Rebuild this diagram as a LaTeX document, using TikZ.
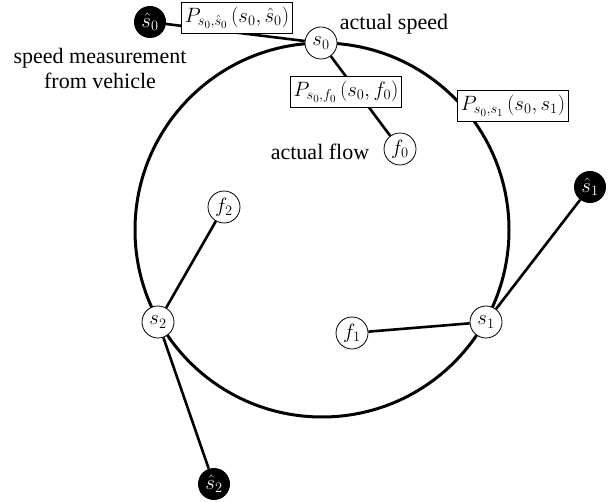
\documentclass[tikz,border=0pt]{standalone}
\usepackage{fontspec}
\setmainfont{Liberation Serif}

\begin{document}
\begin{tikzpicture}[x=1pt, y=-1pt,
    every node/.style={font=\fontsize{22}{25}\selectfont\rmfamily},
    state/.style={draw, circle, fill=white, line width=0.8pt, inner sep=0pt, minimum size=32pt},
    meas/.style={circle, fill=black, text=white, inner sep=0pt, minimum size=32pt},
    pbox/.style={draw, fill=white, line width=0.8pt, inner xsep=3pt, inner ysep=5pt},
    link/.style={line width=2.6pt}]
    \useasboundingbox (0,0) rectangle (608,502);

    \draw[line width=3pt] (322,230) circle [radius=187pt];

    \node[state] (s0) at (321,43)  {$s_0$};
    \node[state] (s1) at (486,322) {$s_1$};
    \node[state] (s2) at (158,322) {$s_2$};
    \node[state] (f0) at (400,149) {$f_0$};
    \node[state] (f1) at (352,333) {$f_1$};
    \node[state] (f2) at (224,207) {$f_2$};

    \node[meas] (m0) at (150,22)  {$\hat{s}_0$};
    \node[meas] (m1) at (590,187) {$\hat{s}_1$};
    \node[meas] (m2) at (214,484) {$\hat{s}_2$};

    \draw[link] (m0) -- (s0);
    \draw[link] (s0) -- (f0);
    \draw[link] (m1) -- (s1);
    \draw[link] (f1) -- (s1);
    \draw[link] (s2) -- (f2);
    \draw[link] (s2) -- (m2);

    % probability boxes
    \node[pbox] (p00) at (237,18)  {$P_{s_0,\hat{s}_0}\,(s_0,\hat{s}_0)$};
    \node[pbox] (p0f) at (346,92)  {$P_{s_0,f_0}\,(s_0,f_0)$};
    \node[pbox] (p01) at (513,106) {$P_{s_0,s_1}\,(s_0,s_1)$};

    \node (speed) at (394,24) {actual speed};
    \node[align=center] (vehicle) at (100,68) {speed measurement\\from vehicle};
    \node (flow) at (320,152) {actual flow};
\end{tikzpicture}
\end{document}
